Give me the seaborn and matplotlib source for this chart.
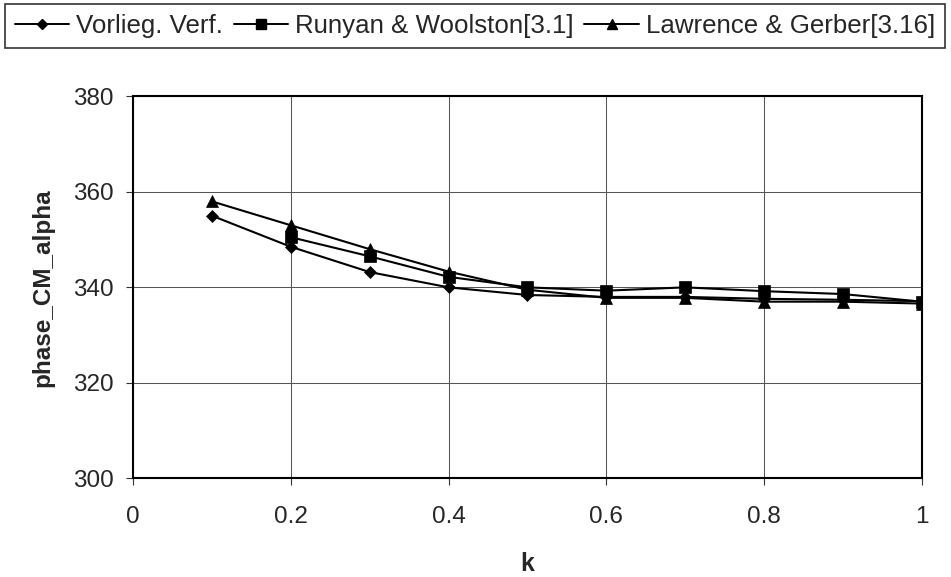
import numpy as np
import pandas as pd
import matplotlib
matplotlib.use("Agg")
import matplotlib.pyplot as plt
from matplotlib.lines import Line2D
import seaborn as sns

# Reduced frequency values
k = [0.1, 0.2, 0.3, 0.4, 0.5, 0.6, 0.7, 0.8, 0.9, 1.0]

# Phase of the CM_alpha coefficient [deg]
vorlieg = [355.0, 348.5, 343.2, 340.0, 338.4, 338.0, 338.0, 337.6, 337.4, 337.1]
runyan = [np.nan, 350.5, 346.5, 342.2, 340.0, 339.3, 340.0, 339.2, 338.6, 337.0]
lawrence = [358.0, 353.0, 348.0, 343.3, 339.5, 337.8, 337.8, 337.0, 337.0, 336.6]

series_names = ["Vorlieg. Verf.", "Runyan & Woolston[3.1]", "Lawrence & Gerber[3.16]"]
series_values = [vorlieg, runyan, lawrence]
series_markers = ["D", "s", "^"]
marker_sizes = [6.5, 9, 8.6]
legend_marker_sizes = [5, 6.5, 6.5]

x_ticks = [0, 0.2, 0.4, 0.6, 0.8, 1]
x_tick_labels = ["0", "0.2", "0.4", "0.6", "0.8", "1"]
y_ticks = [300, 320, 340, 360, 380]

sns.set_theme(style="white")
plt.rcParams["font.family"] = ["Liberation Sans", "DejaVu Sans"]

fig = plt.figure(figsize=(9.51, 5.77), dpi=100)
ax = fig.add_axes([0.1399, 0.171, 0.8293, 0.662])

for name, vals, mk, ms in zip(series_names, series_values, series_markers, marker_sizes):
    df = pd.DataFrame({"k": k, "v": vals}).dropna()
    sns.lineplot(data=df, x="k", y="v", ax=ax, color="black", linewidth=1.5,
                 marker=mk, markersize=ms, markeredgecolor="black",
                 markeredgewidth=0.5, markerfacecolor="black",
                 label=name, legend=False)

ax.set_xlim(0, 1)
ax.set_ylim(300, 380)
ax.set_xticks(x_ticks)
ax.set_xticklabels(x_tick_labels)
ax.set_yticks(y_ticks)
ax.grid(True, color="#555555", linewidth=0.75)
ax.set_axisbelow(True)
for sp in ax.spines.values():
    sp.set_color("black")
    sp.set_linewidth(1.5)
    sp.set_visible(True)
ax.tick_params(axis="both", direction="out", length=5, width=0.8, color="#333333",
               labelsize=17.5, bottom=True, left=True)
ax.tick_params(axis="x", pad=15)
ax.tick_params(axis="y", pad=9)
ax.set_xlabel("k", fontsize=18, fontweight="bold", labelpad=17)
ax.set_ylabel("phase_CM_alpha", fontsize=17.5, fontweight="bold", labelpad=13)

leg_handles = [Line2D([], [], color="black", linewidth=1.4, marker=m, markersize=s,
                      markerfacecolor="black", markeredgecolor="black")
               for m, s in zip(series_markers, legend_marker_sizes)]
leg = fig.legend(leg_handles, series_names, loc="upper left", ncol=3,
                 bbox_to_anchor=(5 / 951, 1 - 4 / 577), frameon=True, fancybox=False,
                 edgecolor="black", fontsize=18.6, handlelength=2.1,
                 handletextpad=0.27, columnspacing=0.42, borderpad=0.38,
                 borderaxespad=0.0)
leg.get_frame().set_linewidth(1.2)

fig.savefig("out.png", dpi=100, facecolor="white")
